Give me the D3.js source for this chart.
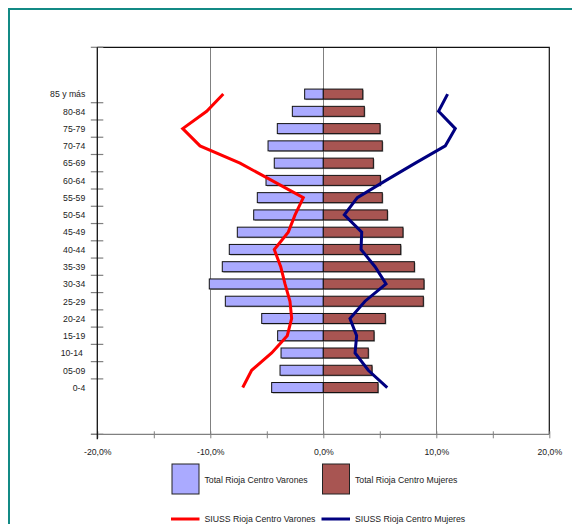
<!DOCTYPE html>
<html><head><meta charset="utf-8">
<script src="https://cdn.jsdelivr.net/npm/d3@7"></script>
<style>
body{margin:0;background:#fff;}
svg{display:block;font-family:"Liberation Sans",Arial,sans-serif;}
</style></head>
<body><svg id="c" width="572" height="524"></svg>
<script>
const categories = ["85 y más","80-84","75-79","70-74","65-69","60-64","55-59","50-54","45-49","40-44","35-39","30-34","25-29","20-24","15-19","10-14 ","05-09","0-4"];
const totalVarones = [-1.65,-2.74,-4.07,-4.89,-4.34,-5.07,-5.84,-6.16,-7.61,-8.32,-8.94,-10.09,-8.67,-5.45,-4.04,-3.74,-3.83,-4.57];
const totalMujeres = [3.49,3.63,5.02,5.22,4.43,5.05,5.22,5.67,7.05,6.85,8.06,8.91,8.85,5.49,4.49,3.98,4.31,4.84];
const siussVarones = [-8.85,-10.32,-12.44,-10.91,-7.37,-4.57,-1.77,-2.5,-3.1,-4.34,-3.77,-3.39,-2.95,-2.8,-3.19,-4.57,-6.34,-7.13];
const siussMujeres = [11.0,10.2,11.68,10.8,8.14,5.55,3.01,1.86,3.4,3.34,4.58,5.55,3.69,2.36,2.95,2.81,3.98,5.66];
const xTicks = [-20,-15,-10,-5,0,5,10,15,20];
const xLabelTicks = [-20,-10,0,10,20];
const legendBars = ["Total Rioja Centro Varones","Total Rioja Centro Mujeres"];
const legendLines = ["SIUSS Rioja Centro Varones","SIUSS Rioja Centro Mujeres"];

const C = {blue:"#aaaaff", brown:"#a85552", red:"#ff0000", navy:"#000080", grid:"#808080", text:"#222"};
const svg = d3.select("#c");
const L=97.3, R=549.3, T=47.3, B=434.3;
const fs = "8.7px";

// frame
svg.append("rect").attr("x",9).attr("y",9).attr("width",600).attr("height",600)
  .attr("fill","none").attr("stroke","#138a85").attr("stroke-width",2);

const x = d3.scaleLinear().domain([-20,20]).range([L,R]);
const y = d3.scalePoint().domain(categories).range([T,B]).padding(2.71);
const step = y.step();

// gridlines
svg.append("g").selectAll("line").data([-10,0,10]).join("line")
  .attr("x1",d=>x(d)+0.5|0).attr("x2",d=>x(d)+0.5|0).attr("y1",T).attr("y2",B)
  .attr("stroke",C.grid).attr("stroke-width",1).attr("shape-rendering","crispEdges");

// border top/right
svg.append("path").attr("d",`M${L},${T}H${R}V${B}`).attr("fill","none")
  .attr("stroke","#111").attr("stroke-width",1.2);

const bh = 10;
const data = categories.map((c,i)=>({c, m:totalVarones[i], f:totalMujeres[i]}));
// shadows
const sh = svg.append("g").attr("fill","#9a9a9a");
sh.selectAll(".sm").data(data).join("rect")
  .attr("x",d=>x(d.m)+1).attr("y",d=>y(d.c)-bh/2+1).attr("width",d=>x(0)-x(d.m)).attr("height",bh);
sh.selectAll(".sf").data(data).join("rect")
  .attr("x",d=>x(0)+1).attr("y",d=>y(d.c)-bh/2+1).attr("width",d=>x(d.f)-x(0)).attr("height",bh);
// bars
svg.append("g").selectAll("rect").data(data).join("rect")
  .attr("x",d=>x(d.m)).attr("y",d=>y(d.c)-bh/2).attr("width",d=>x(0)-x(d.m)).attr("height",bh)
  .attr("fill",C.blue).attr("stroke","#111").attr("stroke-width",1);
svg.append("g").selectAll("rect").data(data).join("rect")
  .attr("x",d=>x(0)).attr("y",d=>y(d.c)-bh/2).attr("width",d=>x(d.f)-x(0)).attr("height",bh)
  .attr("fill",C.brown).attr("stroke","#111").attr("stroke-width",1);

// lines
const line = d3.line().x(d=>x(d[1])).y(d=>y(d[0]));
svg.append("path").datum(categories.map((c,i)=>[c,siussVarones[i]])).attr("d",line)
  .attr("fill","none").attr("stroke",C.red).attr("stroke-width",3).attr("stroke-linejoin","miter");
svg.append("path").datum(categories.map((c,i)=>[c,siussMujeres[i]])).attr("d",line)
  .attr("fill","none").attr("stroke",C.navy).attr("stroke-width",3).attr("stroke-linejoin","miter");

// x axis
const loc = d3.formatLocale({decimal:",",thousands:".",grouping:[3],currency:["","€"],minus:"-"});
const f1 = loc.format(".1f");
const xAxis = d3.axisBottom(x).tickValues(xTicks).tickSizeInner(4).tickSizeOuter(0)
  .tickFormat(d=> xLabelTicks.includes(d) ? f1(d)+"%" : "");
const gx = svg.append("g").attr("transform",`translate(0,${B})`).call(xAxis);
gx.select(".domain").remove();
gx.selectAll(".tick line").attr("y1",-3).attr("y2",4).attr("stroke",C.grid);
gx.selectAll(".tick text").attr("font-size",fs).attr("fill",C.text).attr("dy",null).attr("y",21);
gx.attr("font-family",null);
svg.append("line").attr("x1",91).attr("x2",R).attr("y1",B).attr("y2",B).attr("stroke",C.grid).attr("stroke-width",1.2);

// y axis
const yAxis = d3.axisLeft(y).tickSize(0).tickPadding(12);
const gy = svg.append("g").attr("transform",`translate(${L},0)`).call(yAxis);
gy.attr("font-family",null);
gy.select(".domain").remove();
gy.selectAll(".tick text").attr("font-size",fs).attr("fill",C.text).style("white-space","pre");
const yTickPos = [T].concat(categories.slice(1).map(c=>y(c)-step/2)).concat([B]);
svg.append("g").selectAll("line").data(yTickPos).join("line")
  .attr("x1",L-6.5).attr("x2",L+6).attr("y1",d=>d).attr("y2",d=>d)
  .attr("stroke",C.grid).attr("stroke-width",1.2);
svg.append("line").attr("x1",L).attr("x2",L).attr("y1",T).attr("y2",B+5).attr("stroke","#111").attr("stroke-width",1.3);

// legend
const lg = svg.append("g").attr("font-size",fs).attr("fill",C.text);
const lgX = [172,322.5];
legendBars.forEach((t,i)=>{
  lg.append("rect").attr("x",lgX[i]).attr("y",464).attr("width",27).attr("height",30)
    .attr("fill",i?C.brown:C.blue).attr("stroke","#222").attr("stroke-width",1);
  lg.append("text").attr("x",lgX[i]+32.5).attr("y",482.5).text(t);
});
legendLines.forEach((t,i)=>{
  lg.append("line").attr("x1",lgX[i]-1).attr("x2",lgX[i]+27.5).attr("y1",519).attr("y2",519)
    .attr("stroke",i?C.navy:C.red).attr("stroke-width",3);
  lg.append("text").attr("x",lgX[i]+32.5).attr("y",522).text(t);
});
</script></body></html>
